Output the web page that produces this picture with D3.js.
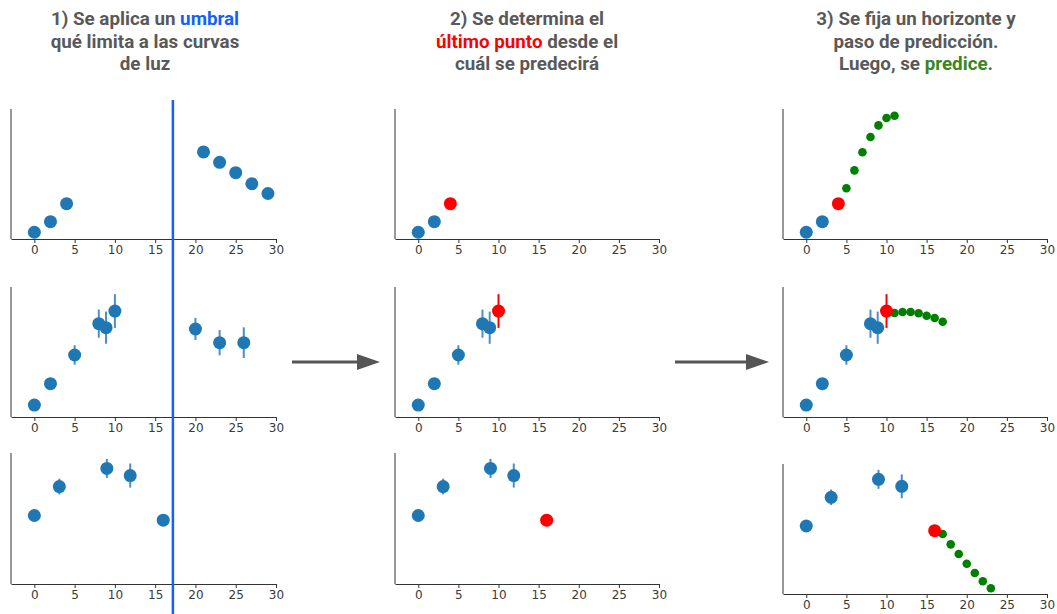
<!DOCTYPE html>
<html>
<head>
<meta charset="utf-8">
<script src="https://cdn.jsdelivr.net/npm/d3@7"></script>
<style>
  body { margin: 0; background: #fff; }
  .tick text { font-family: "DejaVu Sans", sans-serif; font-size: 12px; fill: #3a3a3a; }
  .title { font-family: Roboto, sans-serif; font-weight: 700; font-size: 18.8px; fill: #595959; }
</style>
</head>
<body>
<div class="canvas"></div>
<script>
// data (y in axis units 0..1)
const xTicks = [0, 5, 10, 15, 20, 25, 30]

const row1X = [0, 2, 4, 21, 23, 25, 27, 29]
const row1Y = [0.052, 0.133, 0.272, 0.67, 0.59, 0.51, 0.425, 0.35]
const row1E = [0, 0, 0, 0, 0, 0, 0, 0]
const row1Last = 2
const row1PredX = [5, 6, 7, 8, 9, 10, 11]
const row1PredY = [0.39, 0.528, 0.667, 0.785, 0.874, 0.931, 0.948]

const row2X = [0, 2, 5, 8, 8.9, 10, 20, 23, 26]
const row2Y = [0.092, 0.256, 0.477, 0.718, 0.687, 0.815, 0.677, 0.572, 0.572]
const row2E = [0.02, 0.03, 0.075, 0.108, 0.124, 0.13, 0.085, 0.097, 0.118]
const row2Last = 5
const row2PredX = [11, 12, 13, 14, 15, 16, 17]
const row2PredY = [0.8, 0.808, 0.808, 0.798, 0.779, 0.762, 0.733]

const row3X = [0, 3.1, 9, 11.9, 16]
const row3Y = [0.523, 0.744, 0.882, 0.828, 0.487]
const row3E = [0, 0.06, 0.073, 0.092, 0]
const row3Last = 4
const row3PredX = [17, 18, 19, 20, 21, 22, 23]
const row3PredY = [0.462, 0.382, 0.308, 0.233, 0.162, 0.098, 0.044]

const threshold = 17.2

const rows = [
  { x: row1X, y: row1Y, e: row1E, last: row1Last, px: row1PredX, py: row1PredY },
  { x: row2X, y: row2Y, e: row2E, last: row2Last, px: row2PredX, py: row2PredY },
  { x: row3X, y: row3Y, e: row3E, last: row3Last, px: row3PredX, py: row3PredY }
]

const blue = '#1f77b4'
const errBlue = '#4a8fc8'

const svg = d3.select('.canvas').append('svg')
    .attr('width', 1057)
    .attr('height', 614)

// panel frames: column left/right, row top/bottom
const cols = [[11, 276], [395, 659], [783, 1047]]
const rowBoxes = [
  [[109, 239], [109, 239], [109, 239]],
  [[287, 417], [287, 417], [287, 417]],
  [[453, 584], [453, 584], [464, 594]]
]

function panel(ci, ri) {
  const d = rows[ri]
  const [l, r] = cols[ci]
  const [t, b] = rowBoxes[ri][ci]
  const x = d3.scaleLinear().domain([-2.9, 30]).range([l, r])
  const y = d3.scaleLinear().domain([0, 1]).range([b, t])
  const g = svg.append('g')

  // left spine
  g.append('line')
      .attr('x1', l).attr('x2', l)
      .attr('y1', t).attr('y2', b)
      .attr('stroke', '#333').attr('stroke-width', 1)

  const ax = g.append('g')
      .attr('transform', `translate(0,${b})`)
      .call(d3.axisBottom(x).tickValues(xTicks).tickSize(4).tickPadding(2).tickSizeOuter(0))
  ax.select('.domain').attr('stroke', '#333')
  ax.selectAll('.tick line').attr('stroke', '#333')

  let pts = d.x.map((v, i) => ({ x: v, y: d.y[i], e: d.e[i], i: i }))
  if (ci > 0) pts = pts.filter(p => p.i <= d.last)

  const isLast = p => ci > 0 && p.i === d.last

  g.selectAll('.err').data(pts.filter(p => p.e > 0)).join('line')
      .attr('x1', p => x(p.x)).attr('x2', p => x(p.x))
      .attr('y1', p => y(p.y - p.e)).attr('y2', p => y(p.y + p.e))
      .attr('stroke', p => isLast(p) ? 'red' : errBlue)
      .attr('stroke-width', 2)

  if (ci === 2) {
    g.selectAll('.pred').data(d.px).join('circle')
        .attr('cx', (v) => x(v))
        .attr('cy', (v, i) => y(d.py[i]))
        .attr('r', 4.3)
        .attr('fill', 'green')
  }

  g.selectAll('.pt').data(pts).join('circle')
      .attr('cx', p => x(p.x))
      .attr('cy', p => y(p.y))
      .attr('r', 6.5)
      .attr('fill', p => isLast(p) ? 'red' : blue)

  return x
}

let xFirst
for (let ri = 0; ri < 3; ri++) {
  for (let ci = 0; ci < 3; ci++) {
    const sx = panel(ci, ri)
    if (ci === 0 && ri === 0) xFirst = sx
  }
}

// threshold line across first column
svg.append('line')
    .attr('x1', xFirst(threshold)).attr('x2', xFirst(threshold))
    .attr('y1', 100).attr('y2', 614)
    .attr('stroke', '#1560ff').attr('stroke-width', 2.5)

// arrows between columns
function arrow(x1, x2, yy) {
  svg.append('line')
      .attr('x1', x1).attr('x2', x2 - 20)
      .attr('y1', yy).attr('y2', yy)
      .attr('stroke', '#555').attr('stroke-width', 3)
  svg.append('path')
      .attr('d', `M${x2 - 23},${yy - 8}L${x2},${yy}L${x2 - 23},${yy + 8}Z`)
      .attr('fill', '#555')
}
arrow(292, 380, 362)
arrow(675, 769, 362)

// titles
const titles = [
  { cx: 145, lines: [[['1) Se aplica un ', null], ['umbral', '#0f62fe']], [['qué limita a las curvas', null]], [['de luz', null]]] },
  { cx: 527, lines: [[['2) Se determina el', null]], [['último punto', '#ff0000'], [' desde el', null]], [['cuál se predecirá', null]]] },
  { cx: 916, lines: [[['3) Se fija un horizonte y', null]], [['paso de predicción.', null]], [['Luego, se ', null], ['predice', '#38861c'], ['.', null]]] }
]
titles.forEach(tt => {
  tt.lines.forEach((parts, li) => {
    const txt = svg.append('text')
        .attr('class', 'title')
        .attr('x', tt.cx)
        .attr('y', 25 + li * 22.5)
        .attr('text-anchor', 'middle')
    parts.forEach(p => {
      const s = txt.append('tspan').text(p[0])
      if (p[1]) s.style('fill', p[1])
    })
  })
})
</script>
</body>
</html>
